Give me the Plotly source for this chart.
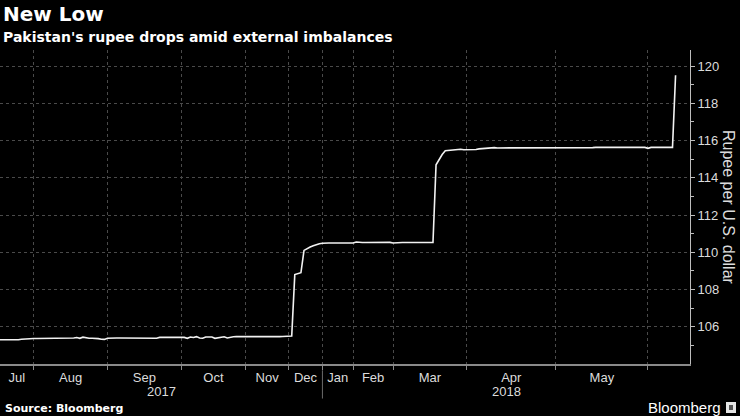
import plotly.graph_objects as go

# ---------------- data ----------------
months = ["Jul", "Aug", "Sep", "Oct", "Nov", "Dec", "Jan", "Feb", "Mar", "Apr", "May", "Jun"]
# number of observations falling in each month (axis is observation-indexed)
month_obs = [11, 24, 24, 21, 14, 11, 10, 13, 24, 29, 30, 12]
years = ["2017", "2018"]
year_months = [6, 6]  # months per year label span

jul = [105.30, 105.30, 105.30, 105.30, 105.29, 105.27, 105.30, 105.33, 105.35, 105.35, 105.36]
aug = [105.37, 105.37, 105.37, 105.37, 105.37, 105.37, 105.37, 105.37, 105.37, 105.37, 105.37, 105.38,
       105.38, 105.40, 105.42, 105.38, 105.44, 105.40, 105.38, 105.38, 105.38, 105.36, 105.33, 105.32]
sep = [105.38, 105.40, 105.40, 105.40, 105.40, 105.40, 105.40, 105.41, 105.42, 105.42, 105.42, 105.40,
       105.40, 105.40, 105.40, 105.38, 105.38, 105.43, 105.43, 105.43, 105.45, 105.45, 105.44, 105.43]
oct_ = [105.45, 105.43, 105.38, 105.45, 105.42, 105.47, 105.40, 105.38, 105.45, 105.43, 105.45, 105.38,
        105.42, 105.46, 105.46, 105.40, 105.45, 105.46, 105.47, 105.47, 105.47]
nov = [105.45, 105.45, 105.45, 105.45, 105.45, 105.44, 105.43, 105.43, 105.43, 105.44, 105.45, 105.47,
       105.48, 105.48]
dec = [105.48, 105.50, 108.80, 108.85, 108.90, 110.10, 110.20, 110.28, 110.35, 110.42, 110.46]
jan = [110.48, 110.50, 110.50, 110.50, 110.50, 110.50, 110.50, 110.50, 110.50, 110.50]
feb = [110.50, 110.55, 110.52, 110.52, 110.52, 110.52, 110.52, 110.52, 110.53, 110.56, 110.52, 110.52, 110.53]
mar = [110.50, 110.52, 110.50, 110.52, 110.52, 110.50, 110.52, 110.52, 110.52, 110.52, 110.50, 110.52,
       110.52, 110.52, 114.70, 115.00, 115.25, 115.45, 115.47, 115.47, 115.50, 115.50, 115.53, 115.50]
apr = [115.50, 115.48, 115.52, 115.52, 115.55, 115.57, 115.58, 115.60, 115.62, 115.62, 115.60, 115.60,
       115.60, 115.60, 115.60, 115.62, 115.60, 115.60, 115.60, 115.60, 115.60, 115.62, 115.60, 115.60,
       115.60, 115.60, 115.60, 115.60, 115.60]
may = [115.60, 115.60, 115.60, 115.62, 115.60, 115.60, 115.58, 115.60, 115.60, 115.60, 115.62, 115.62,
       115.62, 115.63, 115.63, 115.63, 115.63, 115.63, 115.63, 115.63, 115.63, 115.63, 115.63, 115.63,
       115.63, 115.63, 115.63, 115.63, 115.63, 115.63]
jun = [115.58, 115.63, 115.63, 115.63, 115.63, 115.63, 115.63, 115.63, 115.63, 119.50]

rupee = jul + aug + sep + oct_ + nov + dec + jan + feb + mar + apr + may + jun
y_ticks = [106, 108, 110, 112, 114, 116, 118, 120]
y_minor = [105, 107, 109, 111, 113, 115, 117, 119]

# ---------------- derived positions ----------------
idx = list(range(len(rupee)))
bounds = [0]
for n in month_obs:
    bounds.append(bounds[-1] + n)
month_mid = [(bounds[i] + bounds[i + 1]) / 2 for i in range(len(months))]
x_end = bounds[-1] + 1.7
year_bounds = [0, bounds[year_months[0]], x_end]
year_mid = [(year_bounds[i] + year_bounds[i + 1]) / 2 for i in range(2)]

FONT = "Liberation Sans, Arial, sans-serif"
BOLD = "DejaVu Sans, Verdana, sans-serif"
GRID = "#4a4a4a"

fig = go.Figure()
fig.add_trace(go.Scatter(x=idx, y=rupee, mode="lines",
                         line=dict(color="#f2f2f2", width=1.6), hoverinfo="skip"))

fig.update_layout(
    width=740, height=416,
    margin=dict(l=0, r=50, t=50, b=52),
    paper_bgcolor="black", plot_bgcolor="black",
    showlegend=False,
    font=dict(family=FONT, color="#dcdcdc", size=13),
)

fig.update_xaxes(
    range=[0, x_end], showgrid=False, zeroline=False,
    showline=True, linecolor="#8a8a8a", linewidth=2,
    tickmode="array", tickvals=month_mid[:-1], ticktext=months[:-1],
    ticks="", tickfont=dict(family=FONT, size=13, color="#dcdcdc"),
    minor=dict(tickmode="array", tickvals=bounds[1:-1], ticks="outside", ticklen=4,
               tickcolor="#8a8a8a", showgrid=True, gridcolor=GRID, griddash="dot", gridwidth=1),
)
fig.update_yaxes(
    range=[104, 120.86], side="right", zeroline=False,
    showline=True, linecolor="#bdbdbd", linewidth=1,
    tickmode="array", tickvals=y_ticks, ticks="outside", ticklen=4, tickcolor="#bdbdbd",
    tickfont=dict(family=FONT, size=13, color="#dcdcdc"),
    showgrid=True, gridcolor=GRID, griddash="dot", gridwidth=1,
    minor=dict(tickmode="array", tickvals=y_minor, ticks="outside", ticklen=3, tickcolor="#bdbdbd",
               showgrid=False),
)

# year labels and separator
for yr, xm in zip(years, year_mid):
    fig.add_annotation(x=xm, y=-0.089, xref="x", yref="paper", text=yr, showarrow=False,
                       font=dict(family=FONT, size=13, color="#dcdcdc"), yanchor="middle")
fig.add_shape(type="line", xref="x", yref="paper", x0=bounds[6], x1=bounds[6], y0=-0.02, y1=-0.11,
              line=dict(color="#6a6a6a", width=1))

# axis title (rotated clockwise)
fig.add_annotation(x=1.0, xref="paper", xshift=39, y=0.5, yref="paper", text="Rupee per U.S. dollar",
                   textangle=90, showarrow=False, xanchor="center", yanchor="middle",
                   font=dict(family=FONT, size=16, color="#dcdcdc"))

# titles
fig.add_annotation(x=0, y=1, xref="paper", yref="paper", xanchor="left", yanchor="top",
                   xshift=1, yshift=50, text="<b>New Low</b>", showarrow=False,
                   font=dict(family=BOLD, size=20, color="white"))
fig.add_annotation(x=0, y=1, xref="paper", yref="paper", xanchor="left", yanchor="top",
                   xshift=1, yshift=23, text="<b>Pakistan's rupee drops amid external imbalances</b>",
                   showarrow=False, font=dict(family=BOLD, size=14, color="white"))

# footer
fig.add_annotation(x=0, y=0, xref="paper", yref="paper", xanchor="left", yanchor="middle",
                   xshift=3, yshift=-44, text="<b>Source: Bloomberg</b>", showarrow=False,
                   font=dict(family=BOLD, size=11, color="white"))
fig.add_annotation(x=1, y=0, xref="paper", yref="paper", xanchor="right", yanchor="middle",
                   xshift=33, yshift=-43, text="Bloomberg", showarrow=False,
                   font=dict(family=FONT, size=15, color="white"))
fig.add_shape(type="rect", xref="paper", yref="paper", xsizemode="pixel", ysizemode="pixel",
              xanchor=1.0, yanchor=0, x0=36, x1=46, y0=-49, y1=-38,
              line=dict(width=0), fillcolor="#e6e6e6")
fig.add_shape(type="rect", xref="paper", yref="paper", xsizemode="pixel", ysizemode="pixel",
              xanchor=1.0, yanchor=0, x0=39, x1=43, y0=-46, y1=-41,
              line=dict(width=0), fillcolor="#555555")

fig.write_html("out.html")
